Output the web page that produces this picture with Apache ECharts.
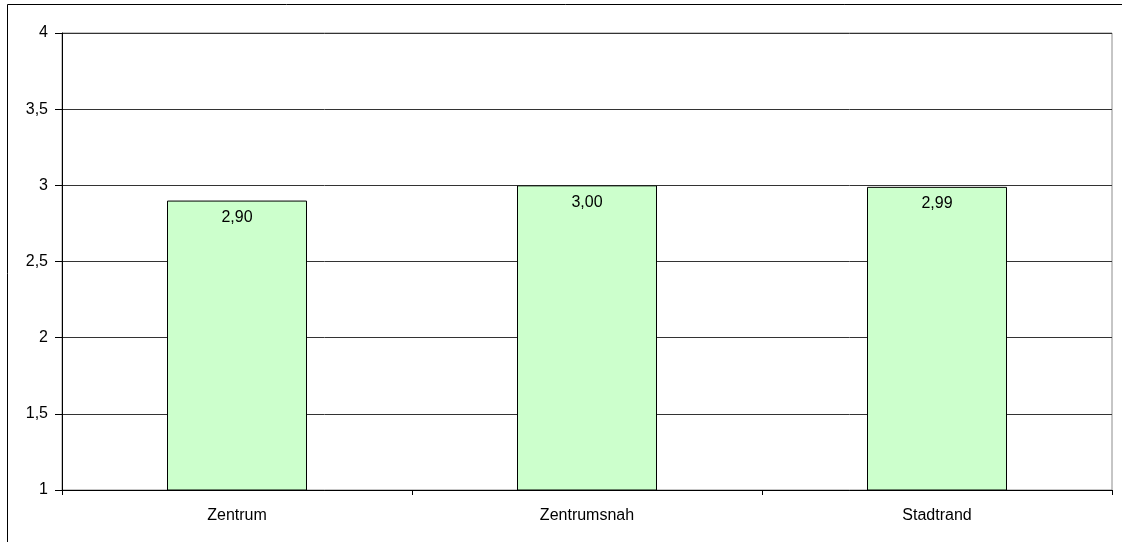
<!DOCTYPE html>
<html><head><meta charset="utf-8">
<script src="https://cdn.jsdelivr.net/npm/echarts@6/dist/echarts.min.js"></script>
<style>html,body{margin:0;padding:0;background:#fff}#c{width:1122px;height:542px}</style>
</head><body><div id="c"></div>
<script>
const categories = ['Zentrum', 'Zentrumsnah', 'Stadtrand'];
const values = [2.90, 3.00, 2.99];
const yMin = 1, yMax = 4, yStep = 0.5;

const fmt = v => String(v).replace('.', ',');
const font = 'Liberation Sans, Arial';
const chart = echarts.init(document.getElementById('c'));
chart.setOption({
  animation: false,
  graphic: [{
    type: 'rect', shape: {x: 7.5, y: 4.5, width: 1200, height: 700},
    style: {fill: 'none', stroke: '#000', lineWidth: 1}, silent: true
  }],
  grid: {left: 62, right: 10, top: 33, bottom: 52, show: true, borderColor: '#8c8c8c', borderWidth: 1, containLabel: false},
  xAxis: {
    type: 'category', data: categories,
    axisLine: {lineStyle: {color: '#000', width: 1}},
    axisTick: {show: true, alignWithLabel: false, length: 5, lineStyle: {color: '#000'}},
    axisLabel: {color: '#000', fontFamily: font, fontSize: 16, margin: 18}
  },
  yAxis: {
    type: 'value', min: yMin, max: yMax, interval: yStep,
    axisLine: {show: true, lineStyle: {color: '#000'}},
    axisTick: {show: true, length: 7, lineStyle: {color: '#000'}},
    splitLine: {lineStyle: {color: '#333', width: 1}},
    axisLabel: {color: '#000', fontFamily: font, fontSize: 16, margin: 14, formatter: v => fmt(v)}
  },
  series: [{
    type: 'bar', data: values, barWidth: '40%',
    itemStyle: {color: '#ccffcc', borderColor: '#000', borderWidth: 1},
    label: {show: true, position: 'insideTop', distance: 9, color: '#000', fontFamily: font, fontSize: 16,
      formatter: p => p.value.toFixed(2).replace('.', ',')}
  }]
});
</script></body></html>
